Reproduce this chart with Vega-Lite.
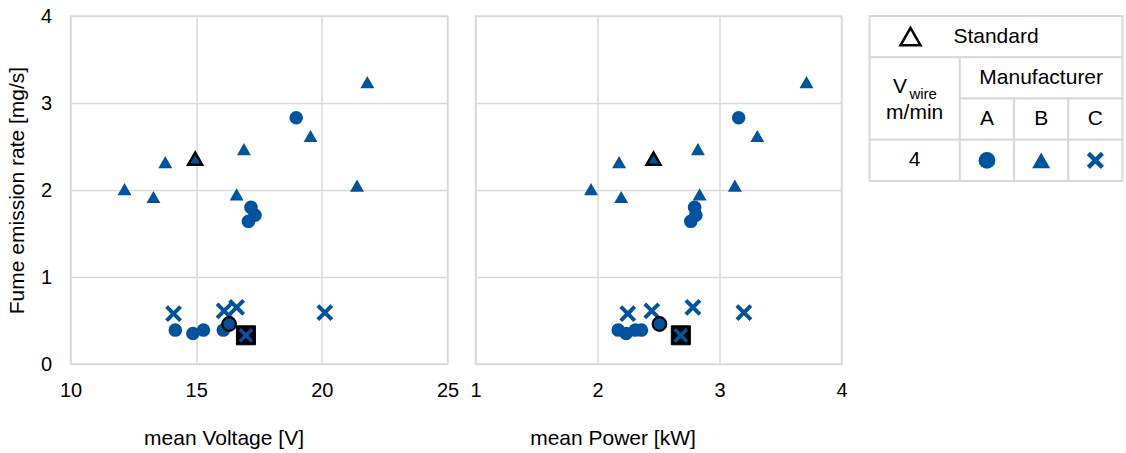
{
  "$schema": "https://vega.github.io/schema/vega-lite/v6.json",
  "padding": {"left": 5.5, "top": 5, "right": 0, "bottom": 0},
  "background": "white",
  "spacing": 28,
  "bounds": "flush",
  "config": {
    "font": "Liberation Sans",
    "view": {"stroke": "#d9d9d9", "strokeWidth": 1.5},
    "axis": {
      "labelFontSize": 20, "titleFontSize": 21, "titleFontWeight": "normal",
      "labelColor": "black", "titleColor": "black",
      "gridColor": "#d9d9d9", "gridWidth": 1.5,
      "domain": false, "ticks": false, "tickSize": 0, "labelFlush": false
    }
  },
  "datasets": {
    "pts": [
      {"m": "A", "s": 0, "V": 18.98, "P": 3.157, "rate": 2.83},
      {"m": "A", "s": 0, "V": 17.18, "P": 2.796, "rate": 1.80},
      {"m": "A", "s": 0, "V": 17.34, "P": 2.806, "rate": 1.71},
      {"m": "A", "s": 0, "V": 17.08, "P": 2.765, "rate": 1.64},
      {"m": "A", "s": 0, "V": 14.17, "P": 2.17, "rate": 0.39},
      {"m": "A", "s": 0, "V": 14.87, "P": 2.235, "rate": 0.35},
      {"m": "A", "s": 0, "V": 15.29, "P": 2.31, "rate": 0.39},
      {"m": "A", "s": 0, "V": 16.08, "P": 2.36, "rate": 0.39},
      {"m": "A", "s": 1, "V": 16.31, "P": 2.508, "rate": 0.46},
      {"m": "B", "s": 0, "V": 21.81, "P": 3.713, "rate": 3.24},
      {"m": "B", "s": 0, "V": 19.55, "P": 3.31, "rate": 2.62},
      {"m": "B", "s": 0, "V": 16.9, "P": 2.823, "rate": 2.47},
      {"m": "B", "s": 0, "V": 13.77, "P": 2.177, "rate": 2.32},
      {"m": "B", "s": 0, "V": 12.15, "P": 1.947, "rate": 2.01},
      {"m": "B", "s": 0, "V": 13.3, "P": 2.194, "rate": 1.92},
      {"m": "B", "s": 0, "V": 16.61, "P": 2.837, "rate": 1.95},
      {"m": "B", "s": 0, "V": 21.4, "P": 3.126, "rate": 2.05},
      {"m": "B", "s": 1, "V": 14.96, "P": 2.459, "rate": 2.36},
      {"m": "C", "s": 0, "V": 14.1, "P": 2.248, "rate": 0.58},
      {"m": "C", "s": 0, "V": 16.11, "P": 2.445, "rate": 0.61},
      {"m": "C", "s": 0, "V": 16.61, "P": 2.782, "rate": 0.65},
      {"m": "C", "s": 0, "V": 20.12, "P": 3.2, "rate": 0.59},
      {"m": "C", "s": 1, "V": 16.98, "P": 2.683, "rate": 0.33}
    ],
    "cells": [
      {"c0": 0, "c1": 14, "r0": 0, "r1": 1},
      {"c0": 0, "c1": 5, "r0": 1, "r1": 3},
      {"c0": 5, "c1": 14, "r0": 1, "r1": 2},
      {"c0": 5, "c1": 8, "r0": 2, "r1": 3},
      {"c0": 8, "c1": 11, "r0": 2, "r1": 3},
      {"c0": 11, "c1": 14, "r0": 2, "r1": 3},
      {"c0": 0, "c1": 5, "r0": 3, "r1": 4},
      {"c0": 5, "c1": 8, "r0": 3, "r1": 4},
      {"c0": 8, "c1": 11, "r0": 3, "r1": 4},
      {"c0": 11, "c1": 14, "r0": 3, "r1": 4}
    ],
    "labels": [
      {"t": "Standard", "c": 7.0, "r": 0.5},
      {"t": "Manufacturer", "c": 9.5, "r": 1.5},
      {"t": "V", "c": 1.69, "r": 1.71},
      {"t": "m/min", "c": 2.5, "r": 2.36},
      {"t": "A", "c": 6.5, "r": 2.5},
      {"t": "B", "c": 9.5, "r": 2.5},
      {"t": "C", "c": 12.5, "r": 2.5},
      {"t": "4", "c": 2.5, "r": 3.5}
    ],
    "subs": [
      {"t": "wire", "c": 2.97, "r": 1.9}
    ],
    "syms": [
      {"m": "Std", "c": 2.27, "r": 0.5},
      {"m": "A", "c": 6.5, "r": 3.5},
      {"m": "B", "c": 9.5, "r": 3.5},
      {"m": "C", "c": 12.5, "r": 3.5}
    ]
  },
  "hconcat": [
    {
      "width": 377, "height": 348,
      "data": {"name": "pts"},
      "encoding": {
        "x": {"field": "V", "type": "quantitative", "scale": {"domain": [10, 25], "nice": false, "zero": false},
              "axis": {"values": [10, 15, 20, 25], "title": "mean Voltage [V]", "labelPadding": 16, "titlePadding": 27, "titleX": 153}},
        "y": {"field": "rate", "type": "quantitative", "scale": {"domain": [0, 4], "nice": false},
              "axis": {"values": [0, 1, 2, 3, 4], "title": "Fume emission rate [mg/s]", "labelPadding": 19, "titlePadding": 13}}
      },
      "layer": [
        {"transform": [{"filter": "datum.m === 'A' && datum.s === 0"}],
         "mark": {"type": "point", "shape": "circle", "filled": true, "size": 185, "color": "#00549F", "opacity": 1}},
        {"transform": [{"filter": "datum.m === 'B' && datum.s === 0"}],
         "mark": {"type": "point", "shape": "triangle-up", "filled": true, "size": 196, "color": "#00549F", "opacity": 1}},
        {"transform": [{"filter": "datum.m === 'C' && datum.s === 0"}],
         "mark": {"type": "point", "shape": "M-1,-1L1,1M-1,1L1,-1", "filled": false, "size": 196, "stroke": "#00549F", "strokeWidth": 4, "opacity": 1}},
        {"transform": [{"filter": "datum.m === 'A' && datum.s === 1"}],
         "mark": {"type": "point", "shape": "circle", "filled": true, "size": 185, "fill": "#00549F", "stroke": "black", "strokeWidth": 2.2, "opacity": 1}},
        {"transform": [{"filter": "datum.m === 'B' && datum.s === 1"}],
         "mark": {"type": "point", "shape": "triangle-up", "filled": true, "size": 196, "fill": "#00549F", "stroke": "black", "strokeWidth": 2.5, "opacity": 1}},
        {"transform": [{"filter": "datum.m === 'C' && datum.s === 1"}],
         "mark": {"type": "point", "shape": "square", "filled": true, "size": 361, "fill": "black", "stroke": "black", "strokeWidth": 1, "opacity": 1}},
        {"transform": [{"filter": "datum.m === 'C' && datum.s === 1"}],
         "mark": {"type": "point", "shape": "M-1,-1L1,1M-1,1L1,-1", "filled": false, "size": 150, "stroke": "#00549F", "strokeWidth": 3.5, "opacity": 1}}
      ]
    },
    {
      "width": 366, "height": 348,
      "data": {"name": "pts"},
      "encoding": {
        "x": {"field": "P", "type": "quantitative", "scale": {"domain": [1, 4], "nice": false, "zero": false},
              "axis": {"values": [1, 2, 3, 4], "title": "mean Power [kW]", "labelPadding": 16, "titlePadding": 27, "titleX": 137}},
        "y": {"field": "rate", "type": "quantitative", "scale": {"domain": [0, 4], "nice": false},
              "axis": {"values": [0, 1, 2, 3, 4], "title": null, "labels": false}}
      },
      "layer": [
        {"transform": [{"filter": "datum.m === 'A' && datum.s === 0"}],
         "mark": {"type": "point", "shape": "circle", "filled": true, "size": 185, "color": "#00549F", "opacity": 1}},
        {"transform": [{"filter": "datum.m === 'B' && datum.s === 0"}],
         "mark": {"type": "point", "shape": "triangle-up", "filled": true, "size": 196, "color": "#00549F", "opacity": 1}},
        {"transform": [{"filter": "datum.m === 'C' && datum.s === 0"}],
         "mark": {"type": "point", "shape": "M-1,-1L1,1M-1,1L1,-1", "filled": false, "size": 196, "stroke": "#00549F", "strokeWidth": 4, "opacity": 1}},
        {"transform": [{"filter": "datum.m === 'A' && datum.s === 1"}],
         "mark": {"type": "point", "shape": "circle", "filled": true, "size": 185, "fill": "#00549F", "stroke": "black", "strokeWidth": 2.2, "opacity": 1}},
        {"transform": [{"filter": "datum.m === 'B' && datum.s === 1"}],
         "mark": {"type": "point", "shape": "triangle-up", "filled": true, "size": 196, "fill": "#00549F", "stroke": "black", "strokeWidth": 2.5, "opacity": 1}},
        {"transform": [{"filter": "datum.m === 'C' && datum.s === 1"}],
         "mark": {"type": "point", "shape": "square", "filled": true, "size": 361, "fill": "black", "stroke": "black", "strokeWidth": 1, "opacity": 1}},
        {"transform": [{"filter": "datum.m === 'C' && datum.s === 1"}],
         "mark": {"type": "point", "shape": "M-1,-1L1,1M-1,1L1,-1", "filled": false, "size": 150, "stroke": "#00549F", "strokeWidth": 3.5, "opacity": 1}}
      ]
    },
    {
      "width": 253, "height": 165,
      "view": {"stroke": null},
      "layer": [
        {"data": {"name": "cells"},
         "mark": {"type": "rect", "fill": "white", "stroke": "#d9d9d9", "strokeWidth": 2},
         "encoding": {
           "x": {"field": "c0", "type": "quantitative", "scale": {"domain": [0, 14], "nice": false, "zero": false}, "axis": null},
           "x2": {"field": "c1"},
           "y": {"field": "r0", "type": "quantitative", "scale": {"domain": [0, 4], "nice": false, "reverse": true}, "axis": null},
           "y2": {"field": "r1"}
         }},
        {"data": {"name": "labels"},
         "mark": {"type": "text", "fontSize": 21, "color": "black", "align": "center", "baseline": "middle"},
         "encoding": {
           "x": {"field": "c", "type": "quantitative"},
           "y": {"field": "r", "type": "quantitative"},
           "text": {"field": "t"}
         }},
        {"data": {"name": "subs"},
         "mark": {"type": "text", "fontSize": 15, "color": "black", "align": "center", "baseline": "middle"},
         "encoding": {
           "x": {"field": "c", "type": "quantitative"},
           "y": {"field": "r", "type": "quantitative"},
           "text": {"field": "t"}
         }},
        {"data": {"name": "syms"},
         "transform": [{"filter": "datum.m === 'Std'"}],
         "mark": {"type": "point", "shape": "triangle-up", "filled": false, "size": 400, "stroke": "black", "strokeWidth": 2.5, "opacity": 1},
         "encoding": {"x": {"field": "c", "type": "quantitative"}, "y": {"field": "r", "type": "quantitative"}}},
        {"data": {"name": "syms"},
         "transform": [{"filter": "datum.m === 'A'"}],
         "mark": {"type": "point", "shape": "circle", "filled": true, "size": 283, "color": "#00549F", "opacity": 1},
         "encoding": {"x": {"field": "c", "type": "quantitative"}, "y": {"field": "r", "type": "quantitative"}}},
        {"data": {"name": "syms"},
         "transform": [{"filter": "datum.m === 'B'"}],
         "mark": {"type": "point", "shape": "triangle-up", "filled": true, "size": 324, "color": "#00549F", "opacity": 1},
         "encoding": {"x": {"field": "c", "type": "quantitative"}, "y": {"field": "r", "type": "quantitative"}}},
        {"data": {"name": "syms"},
         "transform": [{"filter": "datum.m === 'C'"}],
         "mark": {"type": "point", "shape": "M-1,-1L1,1M-1,1L1,-1", "filled": false, "size": 196, "stroke": "#00549F", "strokeWidth": 4.5, "opacity": 1},
         "encoding": {"x": {"field": "c", "type": "quantitative"}, "y": {"field": "r", "type": "quantitative"}}}
      ]
    }
  ]
}
